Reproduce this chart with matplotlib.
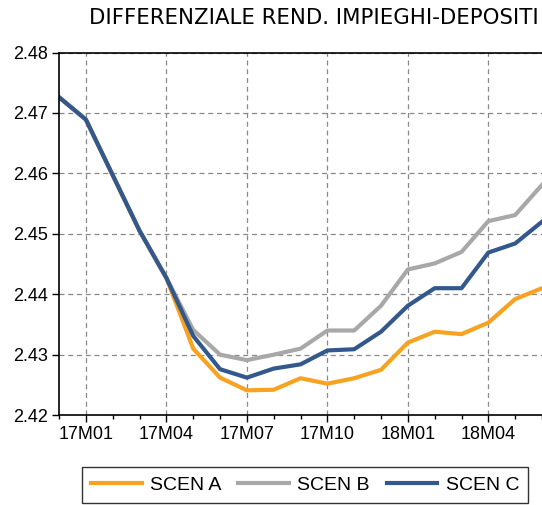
import matplotlib.pyplot as plt
from matplotlib.ticker import MultipleLocator, FixedLocator

plt.rcParams['font.family'] = ['Liberation Sans', 'DejaVu Sans']

# Monthly periods 16M12 .. 18M06
months = ["16M12", "17M01", "17M02", "17M03", "17M04", "17M05", "17M06", "17M07",
          "17M08", "17M09", "17M10", "17M11", "17M12", "18M01", "18M02", "18M03",
          "18M04", "18M05", "18M06"]

scen_a = [2.4726, 2.4689, 2.4597, 2.4505, 2.4427, 2.4310, 2.4262, 2.4241, 2.4242,
          2.4261, 2.4252, 2.4261, 2.4275, 2.4320, 2.4338, 2.4334, 2.4353, 2.4392, 2.4410]
scen_b = [2.4726, 2.4689, 2.4597, 2.4505, 2.4427, 2.4341, 2.4300, 2.4291, 2.4300,
          2.4310, 2.4340, 2.4340, 2.4381, 2.4441, 2.4451, 2.4470, 2.4521, 2.4531, 2.4581]
scen_c = [2.4726, 2.4689, 2.4597, 2.4505, 2.4427, 2.4331, 2.4276, 2.4262, 2.4277,
          2.4284, 2.4307, 2.4309, 2.4338, 2.4381, 2.4410, 2.4410, 2.4469, 2.4484, 2.4520]

labels = ["17M01", "17M04", "17M07", "17M10", "18M01", "18M04"]

x = list(range(len(months)))
major_pos = [months.index(m) for m in labels]

fig = plt.figure(figsize=(5.42, 5.05), dpi=100)
ax = fig.add_axes([0.109, 0.178, 0.891, 0.718])

ax.plot(x, scen_a, color="#F7A321", lw=3, label="SCEN A")
ax.plot(x, scen_b, color="#A8A8A8", lw=3, label="SCEN B")
ax.plot(x, scen_c, color="#33598C", lw=3, label="SCEN C")

ax.set_xlim(0, len(months) - 1)
ax.set_ylim(2.42, 2.48)
ax.yaxis.set_major_locator(MultipleLocator(0.01))
ax.yaxis.set_major_formatter(plt.FuncFormatter(lambda v, p: f"{v:.2f}"))
ax.xaxis.set_major_locator(FixedLocator(major_pos))
ax.set_xticklabels(labels)
ax.xaxis.set_minor_locator(FixedLocator(x))

ax.tick_params(axis="both", labelsize=13, direction="out", length=5, width=1, pad=3)
ax.tick_params(axis="x", which="minor", length=3, width=1)
ax.grid(True, which="major", color="#888888", linestyle=(0, (4, 3)), linewidth=0.9)
ax.spines["right"].set_visible(False)
for s in ["left", "top", "bottom"]:
    ax.spines[s].set_linewidth(1.2)

fig.text(0.579, 0.964, "DIFFERENZIALE REND. IMPIEGHI-DEPOSITI", ha="center", va="center",
         fontsize=15.3, family=["DejaVu Sans"])

leg = fig.legend(loc="center", bbox_to_anchor=(0.563, 0.0396), ncol=3, fontsize=14,
                 frameon=True, fancybox=False, edgecolor="black", handlelength=2.6,
                 columnspacing=0.85, handletextpad=0.45, borderpad=0.45)
leg.get_frame().set_linewidth(1.0)

fig.savefig("out.png", dpi=100)
